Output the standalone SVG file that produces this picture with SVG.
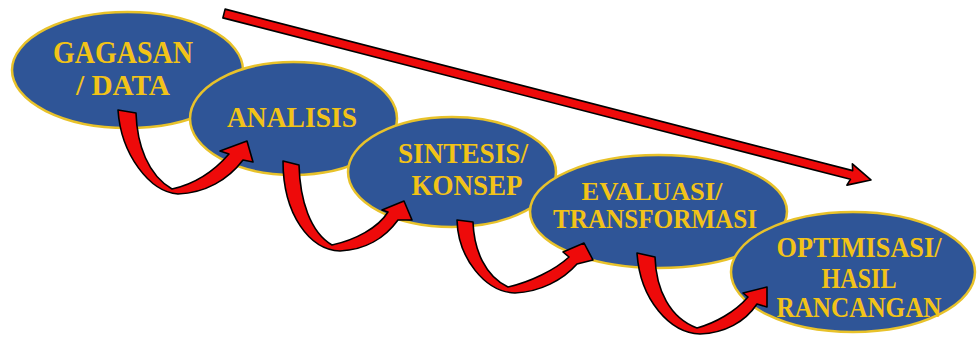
<svg xmlns="http://www.w3.org/2000/svg" width="977" height="337" viewBox="0 0 977 337">
  <style>
    .node ellipse { fill: #2f5597; stroke: #e8c22a; stroke-width: 2.5; }
    .node text { font-family: "Liberation Serif", "Times New Roman", serif; font-weight: bold; fill: #f2c318; text-anchor: middle; }
    .flow { fill: #ee0a0a; stroke: #000; stroke-width: 1.6; stroke-linejoin: round; }
  </style>
  <rect width="977" height="337" fill="#ffffff"/>

  <!-- process steps, each overlapping the previous one -->
  <g id="node-gagasan" class="node">
    <ellipse cx="127.5" cy="70" rx="115.5" ry="58"/>
    <text x="123" y="63" font-size="31" textLength="140" lengthAdjust="spacingAndGlyphs">GAGASAN</text>
    <text x="123" y="95" font-size="30" textLength="94" lengthAdjust="spacingAndGlyphs">/ DATA</text>
  </g>
  <g id="node-analisis" class="node">
    <ellipse cx="293.5" cy="118.5" rx="103.5" ry="56.5"/>
    <text x="292" y="127" font-size="29.5" textLength="130" lengthAdjust="spacingAndGlyphs">ANALISIS</text>
  </g>
  <g id="node-sintesis" class="node">
    <ellipse cx="452" cy="172" rx="104" ry="55"/>
    <text x="463" y="163" font-size="28.5" textLength="130" lengthAdjust="spacingAndGlyphs">SINTESIS/</text>
    <text x="467" y="195" font-size="28.5" textLength="111" lengthAdjust="spacingAndGlyphs">KONSEP</text>
  </g>
  <g id="node-evaluasi" class="node">
    <ellipse cx="658.5" cy="211.5" rx="128.5" ry="56.5"/>
    <text x="652" y="200" font-size="25" textLength="141" lengthAdjust="spacingAndGlyphs">EVALUASI/</text>
    <text x="655" y="228" font-size="26.5" textLength="204" lengthAdjust="spacingAndGlyphs">TRANSFORMASI</text>
  </g>
  <g id="node-optimisasi" class="node">
    <ellipse cx="853" cy="272" rx="122" ry="60"/>
    <text x="859" y="257" font-size="28.5" textLength="165" lengthAdjust="spacingAndGlyphs">OPTIMISASI/</text>
    <text x="859" y="288" font-size="28.5" textLength="75" lengthAdjust="spacingAndGlyphs">HASIL</text>
    <text x="859" y="317" font-size="28.5" textLength="165" lengthAdjust="spacingAndGlyphs">RANCANGAN</text>
  </g>

  <!-- connectors: curved step arrows and the overall direction arrow -->
  <g id="connectors">
    <path class="flow" d="M118,110 L136,113 C137,145 148,175 172,189 C195,184 215,170 229,154 L220,151 L247,141 L253,162 L243,160 C228,180 205,193 178,194 C150,192 121,155 118,110 Z"/>
    <path class="flow" d="M283,161 L299,165 C300,200 310,232 332,245 C355,240 378,228 388,212 L382,210 L404,201 L412,220 L398,220 C385,238 365,250 340,251 C310,250 283,215 283,161 Z"/>
    <path class="flow" d="M457,220 L473,222 C474,250 485,276 508,287 C530,282 555,270 569,257 L563,252 L584,243 L593,260 L577,264 C563,280 540,292 515,293 C485,292 458,258 457,220 Z"/>
    <path class="flow" d="M637,253 L655,257 C656,290 670,318 697,328 C715,323 735,312 748,297 L743,293 L767,287 L767,307 L757,304 C745,322 725,333 700,334 C670,333 640,300 637,253 Z"/>
    <path class="flow" transform="translate(224,13.5) rotate(14.43)" d="M0,-4.5 L648,-4.5 L646,-11 L668,0 L646,11 L648,4.5 L0,4.5 Z"/>
  </g>
</svg>
